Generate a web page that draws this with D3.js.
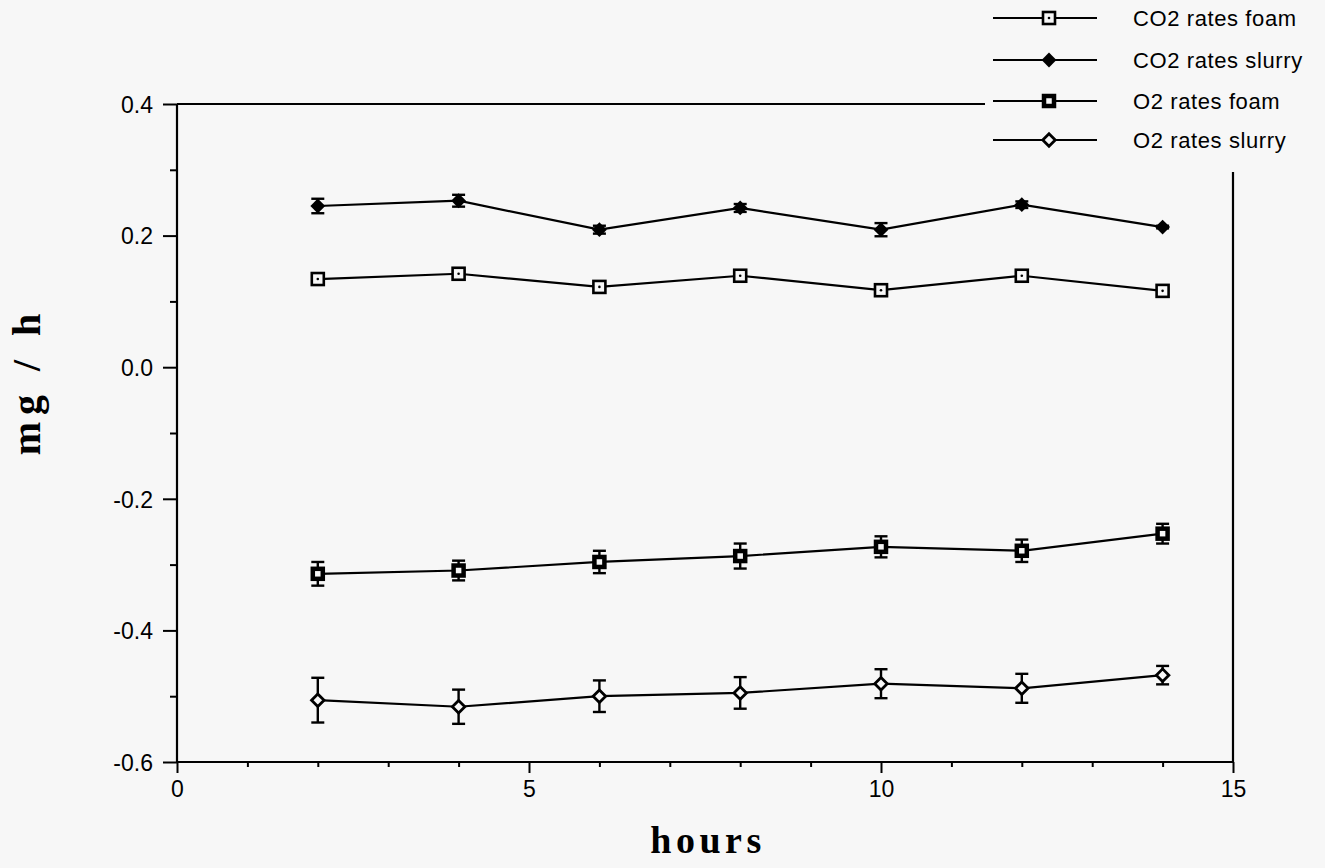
<!DOCTYPE html>
<html>
<head>
<meta charset="utf-8">
<title>mg / h vs hours</title>
<script src="https://d3js.org/d3.v7.min.js"></script>
<style>
  body { margin: 0; background: #f7f7f7; }
  svg { display: block; }
</style>
</head>
<body>
<script>
// data
var hours = [2, 4, 6, 8, 10, 12, 14];
var co2Foam = [0.134, 0.142, 0.122, 0.139, 0.117, 0.139, 0.116];
var co2FoamErr = [0, 0, 0, 0, 0, 0, 0];
var co2Slurry = [0.245, 0.253, 0.209, 0.242, 0.209, 0.247, 0.213];
var co2SlurryErr = [0.011, 0.009, 0.006, 0.006, 0.010, 0.005, 0.002];
var o2Foam = [-0.314, -0.309, -0.296, -0.287, -0.273, -0.279, -0.253];
var o2FoamErr = [0.018, 0.015, 0.017, 0.019, 0.016, 0.017, 0.015];
var o2Slurry = [-0.506, -0.516, -0.500, -0.495, -0.481, -0.488, -0.468];
var o2SlurryErr = [0.034, 0.026, 0.024, 0.024, 0.022, 0.022, 0.014];
var xTicks = [0, 5, 10, 15];
var yTicks = [0.4, 0.2, 0.0, -0.2, -0.4, -0.6];
var seriesNames = ["CO2 rates foam", "CO2 rates slurry", "O2 rates foam", "O2 rates slurry"];

var series = [
  {name: seriesNames[0], vals: co2Foam, err: co2FoamErr, sym: "openSquare"},
  {name: seriesNames[1], vals: co2Slurry, err: co2SlurryErr, sym: "filledDiamond"},
  {name: seriesNames[2], vals: o2Foam, err: o2FoamErr, sym: "boldSquare"},
  {name: seriesNames[3], vals: o2Slurry, err: o2SlurryErr, sym: "openDiamond"}
];

var W = 1325, H = 868;
var bg = "#f7f7f7";
var sans = "Liberation Sans, Arial, sans-serif";
var serif = "Liberation Serif, Times New Roman, serif";

var svg = d3.select("body").append("svg").attr("width", W).attr("height", H);
svg.append("rect").attr("width", W).attr("height", H).attr("fill", bg);

var x = d3.scaleLinear().domain([0, 15]).range([177, 1233]);
var y = d3.scaleLinear().domain([-0.6, 0.4]).range([762, 104]);

// frame: top edge stops at the legend, right edge starts below it
var frame = svg.append("g").attr("stroke", "#000").attr("stroke-width", 2.2).attr("fill", "none");
frame.append("line").attr("x1", x(0)).attr("x2", 985).attr("y1", y(0.4)).attr("y2", y(0.4));
frame.append("line").attr("x1", x(15)).attr("x2", x(15)).attr("y1", 172).attr("y2", y(-0.6));

// axes (hyphen minus like the original)
var fmt = function(d) { return d3.format(".1f")(d).replace("\u2212", "-"); };

var gx = svg.append("g").attr("transform", "translate(0," + y(-0.6) + ")")
  .call(d3.axisBottom(x).tickValues(xTicks).tickSize(11).tickFormat(d3.format("d")));
svg.append("g").attr("transform", "translate(0," + y(-0.6) + ")")
  .call(d3.axisBottom(x).tickValues(d3.range(1, 15).filter(function(d) { return d % 5 != 0; }))
    .tickSize(5).tickFormat(""))
  .select(".domain").remove();

var gy = svg.append("g").attr("transform", "translate(" + x(0) + ",0)")
  .call(d3.axisLeft(y).tickValues(yTicks).tickSize(14).tickFormat(fmt));
svg.append("g").attr("transform", "translate(" + x(0) + ",0)")
  .call(d3.axisLeft(y).tickValues([0.3, 0.1, -0.1, -0.3, -0.5]).tickSize(7).tickFormat(""))
  .select(".domain").remove();

gx.select(".domain").attr("d", "M" + x(0) + ",0H" + x(15)).attr("stroke-width", 2.2);
gy.select(".domain").attr("d", "M0," + y(-0.6) + "V" + y(0.4)).attr("stroke-width", 2.2);
svg.selectAll(".tick line").attr("stroke-width", 2);
svg.selectAll(".tick text")
  .attr("font-family", sans).attr("font-size", 23).attr("fill", "#000");
gx.selectAll(".tick text").attr("dy", "0.92em");
gy.selectAll(".tick text").attr("x", -24).attr("dy", "0.36em");

// axis titles
svg.append("text")
  .attr("transform", "translate(40,381) rotate(-90)")
  .attr("text-anchor", "middle")
  .attr("font-family", serif).attr("font-weight", "bold").attr("font-size", 40)
  .attr("letter-spacing", 7)
  .text("mg / h");
svg.append("text")
  .attr("x", 708).attr("y", 853)
  .attr("text-anchor", "middle")
  .attr("font-family", serif).attr("font-weight", "bold").attr("font-size", 38)
  .attr("letter-spacing", 4.5)
  .text("hours");

function drawSymbol(g, sym, cx, cy) {
  if (sym == "openSquare") {
    g.append("rect").attr("x", cx - 6).attr("y", cy - 6).attr("width", 12).attr("height", 12)
      .attr("fill", bg).attr("stroke", "#000").attr("stroke-width", 2.6);
    g.append("circle").attr("cx", cx).attr("cy", cy).attr("r", 1.3).attr("fill", "#000");
  } else if (sym == "boldSquare") {
    g.append("rect").attr("x", cx - 5).attr("y", cy - 5).attr("width", 10).attr("height", 10)
      .attr("fill", bg).attr("stroke", "#000").attr("stroke-width", 4.5);
  } else if (sym == "filledDiamond") {
    g.append("path").attr("d", d3.symbol().type(d3.symbolDiamond2).size(140)())
      .attr("transform", "translate(" + cx + "," + cy + ")").attr("fill", "#000");
  } else {
    g.append("path").attr("d", d3.symbol().type(d3.symbolDiamond2).size(100)())
      .attr("transform", "translate(" + cx + "," + cy + ")")
      .attr("fill", bg).attr("stroke", "#000").attr("stroke-width", 2.8);
  }
}

var line = d3.line().x(function(d) { return x(d[0]); }).y(function(d) { return y(d[1]); });

series.forEach(function(s) {
  var g = svg.append("g");
  var pts = hours.map(function(h, i) { return [h, s.vals[i], s.err[i]]; });
  g.append("path").attr("d", line(pts)).attr("fill", "none").attr("stroke", "#000").attr("stroke-width", 2.2);
  pts.forEach(function(p) {
    if (p[2] > 0) {
      var cx = x(p[0]), y1 = y(p[1] + p[2]), y2 = y(p[1] - p[2]);
      g.append("line").attr("x1", cx).attr("x2", cx).attr("y1", y1).attr("y2", y2)
        .attr("stroke", "#000").attr("stroke-width", 2.4);
      [y1, y2].forEach(function(yy) {
        g.append("line").attr("x1", cx - 6.5).attr("x2", cx + 6.5).attr("y1", yy).attr("y2", yy)
          .attr("stroke", "#000").attr("stroke-width", 2.4);
      });
    }
  });
  pts.forEach(function(p) { drawSymbol(g, s.sym, x(p[0]), y(p[1])); });
});

// legend
var legendY = [18, 60, 101, 140];
var legend = svg.append("g");
series.forEach(function(s, i) {
  var ly = legendY[i];
  legend.append("line").attr("x1", 993).attr("x2", 1097).attr("y1", ly).attr("y2", ly)
    .attr("stroke", "#000").attr("stroke-width", 2);
  drawSymbol(legend, s.sym, 1049, ly);
  legend.append("text").attr("x", 1133).attr("y", ly + 8)
    .attr("font-family", sans).attr("font-size", 22).attr("letter-spacing", 0.6)
    .attr("fill", "#000")
    .text(s.name);
});
</script>
</body>
</html>
